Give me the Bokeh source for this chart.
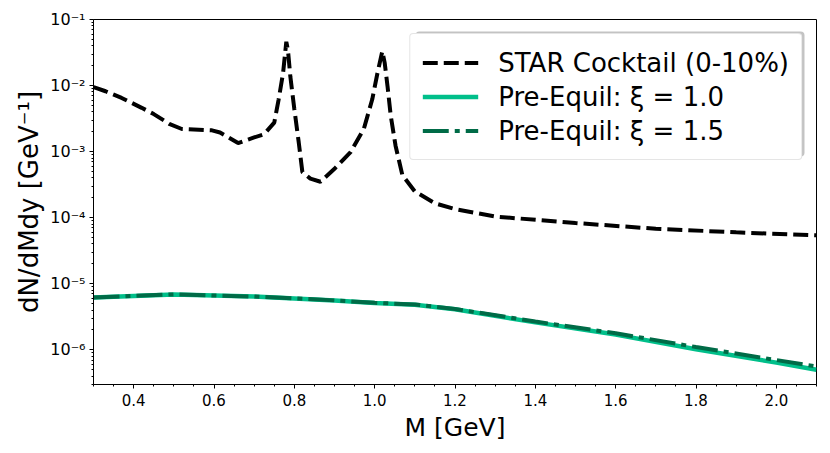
from bokeh.plotting import figure
from bokeh.models import Range1d, FixedTicker, CustomJSTickFormatter, PrintfTickFormatter, BoxAnnotation
from bokeh.embed import file_html
from bokeh.resources import INLINE

# ---- data ----
cocktail_m = [0.30, 0.33, 0.37, 0.42, 0.45, 0.49, 0.52, 0.595, 0.615, 0.66, 0.70, 0.725,
              0.75, 0.761, 0.772, 0.780, 0.784, 0.790, 0.800, 0.811, 0.820, 0.840, 0.865,
              0.900, 0.940, 0.973, 0.994, 1.007, 1.019, 1.025, 1.032, 1.040, 1.052, 1.069,
              1.100, 1.150, 1.200, 1.300, 1.500, 1.700, 1.900, 2.100]
cocktail_dn = [9.5e-3, 8.2e-3, 6.5e-3, 4.6e-3, 3.7e-3, 2.6e-3, 2.2e-3, 2.1e-3, 1.95e-3, 1.35e-3,
               1.64e-3, 1.84e-3, 2.75e-3, 6.2e-3, 1.55e-2, 4.6e-2, 3.5e-2, 1.38e-2, 4.4e-3,
               1.38e-3, 4.9e-4, 3.9e-4, 3.5e-4, 5.5e-4, 9.8e-4, 2.2e-3, 6.2e-3, 1.55e-2,
               3.3e-2, 2.2e-2, 9.8e-3, 3.5e-3, 1.23e-3, 4.4e-4, 2.5e-4, 1.65e-4, 1.35e-4,
               1.04e-4, 8.3e-5, 6.8e-5, 6.0e-5, 5.4e-5]

preeq_m = [0.3, 0.5, 0.7, 0.8, 0.9, 1.0, 1.1, 1.2, 1.4, 1.6, 1.8, 2.0, 2.1]
preeq_xi10 = [6.2e-6, 6.9e-6, 6.4e-6, 6.0e-6, 5.6e-6, 5.1e-6, 4.8e-6, 4.1e-6, 2.6e-6,
              1.7e-6, 1.02e-6, 6.4e-7, 5.0e-7]
preeq_xi15 = [6.2e-6, 6.9e-6, 6.4e-6, 6.0e-6, 5.6e-6, 5.15e-6, 4.85e-6, 4.15e-6, 2.68e-6,
              1.78e-6, 1.1e-6, 7.0e-7, 5.6e-7]

x_ticks = [0.4, 0.6, 0.8, 1.0, 1.2, 1.4, 1.6, 1.8, 2.0]
x_minor = [0.30 + 0.05 * i for i in range(37)]
y_ticks = [1e-6, 1e-5, 1e-4, 1e-3, 1e-2, 1e-1]
y_minor = [k * 10.0 ** e for e in range(-7, -1) for k in range(2, 10)]

labels = ["STAR Cocktail (0-10%)", "Pre-Equil: \u03be = 1.0", "Pre-Equil: \u03be = 1.5"]

FONT = "DejaVu Sans"

p = figure(width=820, height=444, y_axis_type="log",
           x_range=Range1d(0.3, 2.1), y_range=Range1d(2.985e-7, 0.1),
           output_backend="svg", toolbar_location=None,
           min_border_left=93, min_border_right=4, min_border_top=19, min_border_bottom=56)

p.xgrid.visible = False
p.ygrid.visible = False
p.outline_line_color = "black"
p.outline_line_width = 1
p.background_fill_color = "white"
p.border_fill_color = "white"

# legend drop shadow (screen units: x from frame left, y up from frame bottom)
shadow = BoxAnnotation(left=322, right=711, top=353, bottom=228,
                       left_units="screen", right_units="screen",
                       top_units="screen", bottom_units="screen",
                       fill_color="#888888", fill_alpha=0.5, line_alpha=0)
if "border_radius" in shadow.properties():
    shadow.border_radius = 4
p.add_layout(shadow)

p.line(cocktail_m, cocktail_dn, line_color="black", line_width=4, line_dash="15 6",
       legend_label=labels[0])
p.line(preeq_m, preeq_xi10, line_color="#00bf8a", line_width=4.5, legend_label=labels[1])
p.line(preeq_m, preeq_xi15, line_color="#006b47", line_width=4, line_dash="26 6 5 6",
       legend_label=labels[2])

p.xaxis.ticker = FixedTicker(ticks=x_ticks, minor_ticks=x_minor)
p.xaxis.formatter = PrintfTickFormatter(format="%.1f")
p.yaxis.ticker = FixedTicker(ticks=y_ticks, minor_ticks=y_minor)
p.yaxis.formatter = CustomJSTickFormatter(code="""
const e = Math.round(Math.log10(tick));
const sup = {'-':'\u207b','0':'\u2070','1':'\u00b9','2':'\u00b2','3':'\u00b3','4':'\u2074',
             '5':'\u2075','6':'\u2076','7':'\u2077','8':'\u2078','9':'\u2079'};
return '10' + String(e).split('').map(c => sup[c]).join('');
""")

for ax in (p.xaxis, p.yaxis):
    ax.axis_line_color = "black"
    ax.major_tick_line_color = "black"
    ax.minor_tick_line_color = "black"
    ax.major_tick_out = 4
    ax.major_tick_in = 0
    ax.minor_tick_out = 2
    ax.minor_tick_in = 0
    ax.major_label_text_font = FONT
    ax.major_label_text_color = "black"
    ax.axis_label_text_font = FONT
    ax.axis_label_text_font_style = "normal"
    ax.axis_label_text_color = "black"

p.xaxis.axis_label_text_font_size = "25px"
p.yaxis.axis_label_text_font_size = "26px"
p.xaxis.major_label_text_font_size = "15px"
p.yaxis.major_label_text_font_size = "16px"
p.xaxis.axis_label = "M [GeV]"
p.yaxis.axis_label = "dN/dMdy [GeV\u207b\u00b9]"
p.xaxis.major_label_standoff = 5
p.xaxis.axis_label_standoff = 4
p.yaxis.major_label_standoff = 4
p.yaxis.axis_label_standoff = 3

lg = p.legend[0]
lg.location = "top_right"
lg.margin = 14
lg.padding = 12
lg.spacing = 1
lg.glyph_width = 56
lg.glyph_height = 33
lg.label_height = 33
lg.label_standoff = 20
lg.label_text_font = FONT
lg.label_text_font_size = "26px"
lg.label_text_color = "black"
lg.border_line_color = "#cccccc"
lg.border_line_width = 1
lg.background_fill_color = "white"
lg.background_fill_alpha = 1.0
if "border_radius" in lg.properties():
    lg.border_radius = 4

open("out.html", "w").write(file_html(p, INLINE))
